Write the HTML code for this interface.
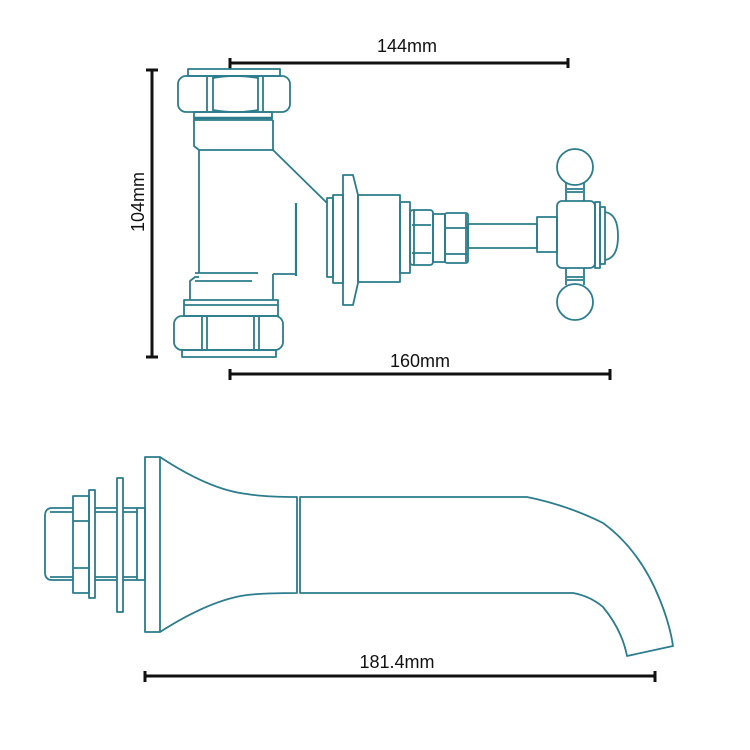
<!DOCTYPE html>
<html><head><meta charset="utf-8"><style>
html,body{margin:0;padding:0;background:#fff;}
svg{display:block}
text{font-family:"Liberation Sans",sans-serif;font-size:18px;fill:#111}
</style></head><body>
<svg width="750" height="750" viewBox="0 0 750 750" xmlns="http://www.w3.org/2000/svg">
<g fill="none" stroke="#111" stroke-width="3">
<line x1="230" y1="63" x2="568" y2="63"/><line x1="230" y1="58" x2="230" y2="69"/><line x1="568" y1="58" x2="568" y2="68"/>
<line x1="152" y1="70" x2="152" y2="357"/><line x1="146" y1="70" x2="158" y2="70"/><line x1="146" y1="357" x2="158" y2="357"/>
<line x1="230" y1="374" x2="610" y2="374"/><line x1="230" y1="369" x2="230" y2="380"/><line x1="610" y1="369" x2="610" y2="380"/>
<line x1="145" y1="676" x2="655" y2="676"/><line x1="145" y1="671" x2="145" y2="682"/><line x1="655" y1="671" x2="655" y2="682"/>
</g>
<text x="407" y="52" text-anchor="middle">144mm</text>
<text x="420" y="367" text-anchor="middle">160mm</text>
<text x="397" y="668" text-anchor="middle">181.4mm</text>
<text transform="translate(144,202) rotate(-90)" text-anchor="middle">104mm</text>

<g fill="none" stroke="#2b7c8c" stroke-width="1.8" stroke-linejoin="round">
<rect x="188" y="69" width="92" height="7"/>
<rect x="178" y="76" width="112" height="36" rx="8"/>
<path d="M207 77 V111 M213 77 V111 M258 77 V111 M263 77 V111"/>
<path d="M213 78 Q235 74 258 78 M213 110 Q235 114 258 110"/>
<rect x="194" y="112" width="78" height="8"/>
<line x1="194" y1="118" x2="272" y2="118" stroke-width="2.5"/>
<path d="M194 120 V146 L199 150 H273 V120"/>
<path d="M199 150 V273 M273 150 L327 203"/>
<path d="M273 274 H296 M273 274 V300"/>
<line x1="296" y1="203" x2="296" y2="276" stroke-width="2.2"/>
<path d="M190 300 V281 L195 277 H199 M195 273 H258 M195 281 H252"/>
<rect x="184" y="300" width="94" height="16"/>
<line x1="184" y1="305" x2="278" y2="305"/>
<rect x="174" y="316" width="109" height="34" rx="8"/>
<path d="M202 317 V349 M207 317 V349 M254 317 V349 M259 317 V349"/>
<rect x="182" y="350" width="94" height="7"/>
<rect x="327" y="198" width="6" height="79"/>
<rect x="333" y="195" width="10" height="88"/>
<path d="M343 175 H353 L358 195 V283 L353 305 H343 Z"/>
<rect x="358" y="195" width="42" height="87"/>
<rect x="400" y="202" width="10" height="71"/>
<rect x="410" y="210" width="23" height="55" rx="3"/>
<path d="M412 225 H431 M412 253 H431 M414 210 V265"/>
<rect x="433" y="214" width="12" height="48"/>
<rect x="445" y="213" width="23" height="50" rx="2"/>
<path d="M446 228 H467 M446 254 H467 M466 214 V262"/>
<rect x="468" y="224" width="69" height="24"/>
<rect x="537" y="217" width="20" height="35"/>
<rect x="557" y="201" width="38" height="67" rx="5"/>
<circle cx="575" cy="167" r="18"/>
<path d="M566 183 V201 M584 183 V201 M567 189 H583 M567 192 H583"/>
<circle cx="575" cy="302" r="18"/>
<path d="M566 268 V285 M584 268 V285 M567 277 H583 M567 280 H583"/>
<rect x="595" y="202" width="5" height="66"/>
<rect x="600" y="207" width="5" height="57"/>
<path d="M605 212 Q618 214 618 236 Q618 258 605 260"/>
<path d="M73 508 H52 Q45 508 45 516 V572 Q45 580 52 580 H73"/>
<path d="M50 512 H73 M50 577 H73"/>
<rect x="73" y="496" width="16" height="97"/>
<path d="M73 521 H89 M73 568 H89"/>
<rect x="89" y="490" width="6" height="108"/>
<path d="M95 508 H117 M95 512 H117 M95 577 H117 M95 580 H117"/>
<rect x="117" y="478" width="6" height="134"/>
<path d="M123 508 H137 M123 512 H137 M123 577 H137 M123 580 H137"/>
<rect x="137" y="508" width="8" height="72"/>
<rect x="145" y="457" width="15" height="175"/>
<path d="M160 457 Q210 490 247 494 Q265 497 297 497 V593 Q265 593 247 595 Q210 600 160 632"/>
<path d="M300 497 H527 Q567 505 603 523 Q640 550 660 600 Q670 625 673 646 L627 656 Q622 630 603 607 Q590 596 573 593 H300 Z"/>
</g>
</svg>
</body></html>
